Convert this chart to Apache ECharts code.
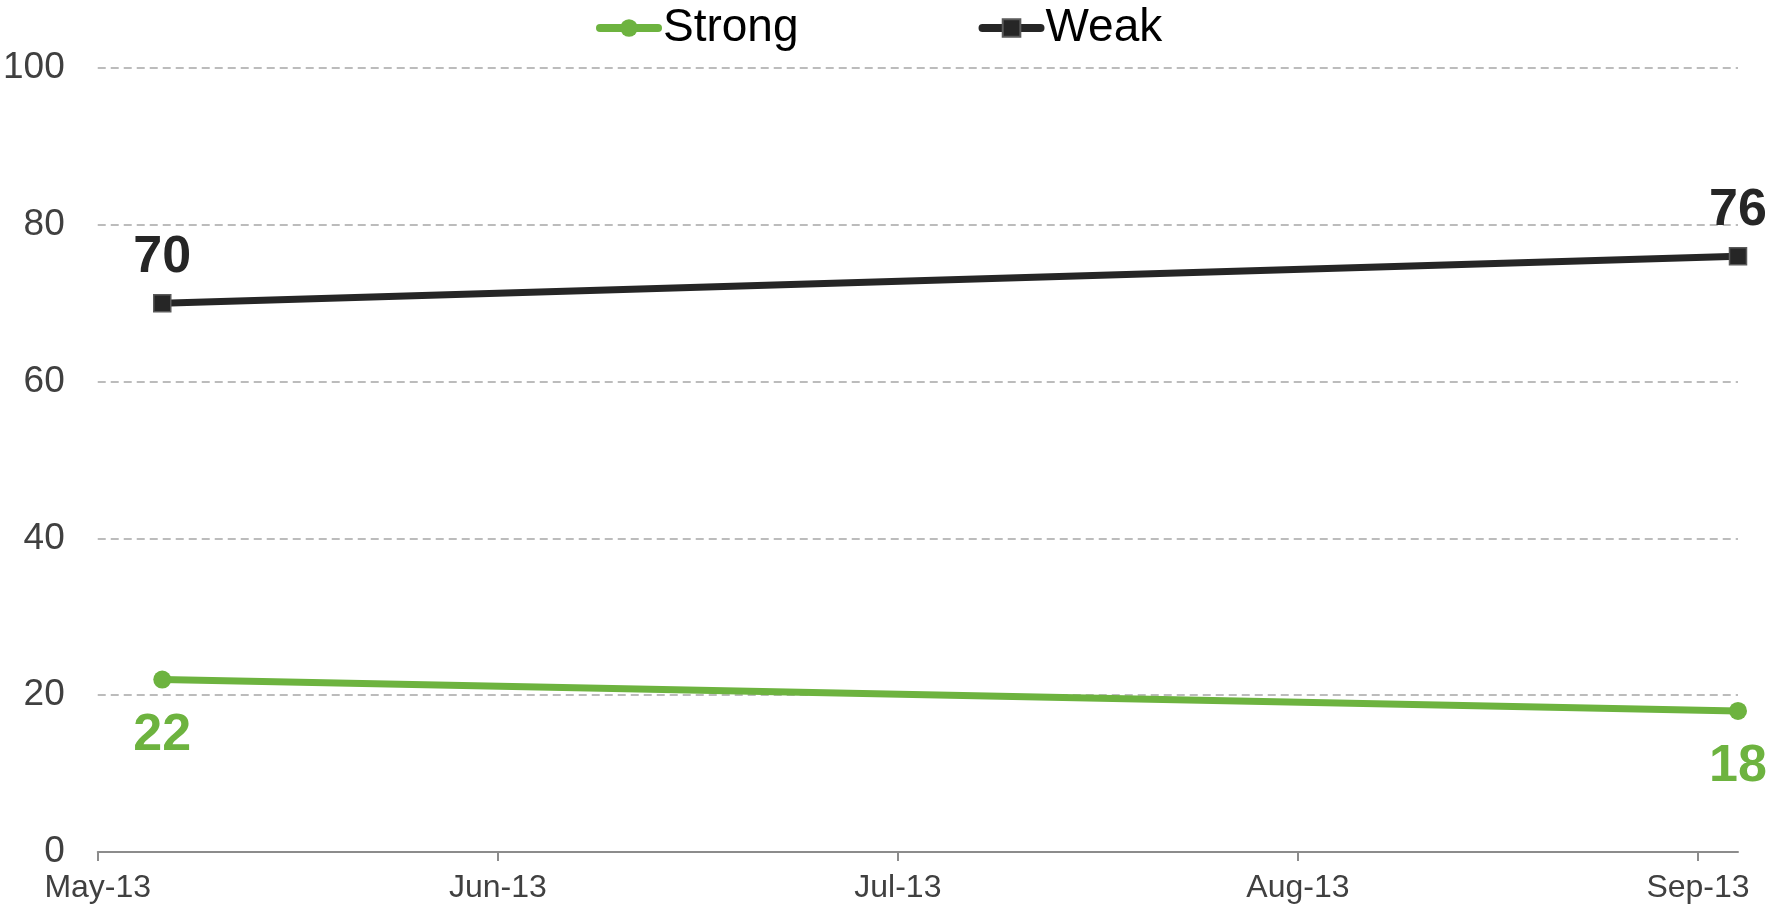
<!DOCTYPE html>
<html>
<head>
<meta charset="utf-8">
<script src="https://cdn.jsdelivr.net/npm/echarts@6/dist/echarts.min.js"></script>
<style>
  html, body { margin: 0; padding: 0; background: #fff; }
  #main { width: 1787px; height: 909px; }
</style>
</head>
<body>
<div id="main"></div>
<script>
// month tick labels (x axis, one per month start)
var months = ["May-13", "Jun-13", "Jul-13", "Aug-13", "Sep-13"];
// survey dates
var dates = ["2013-05-06", "2013-09-04"];
var strong = [22, 18];
var weak = [70, 76];
var yTicks = [0, 20, 40, 60, 80, 100];

// position of a date on a month-index axis (May-13 = 0)
function monthPos(d) {
    var p = d.split("-");
    var y = +p[0], m = +p[1], day = +p[2];
    var daysInMonth = new Date(y, m, 0).getDate();
    return (y - 2013) * 12 + (m - 5) + (day - 1) / daysInMonth;
}

var xs = dates.map(monthPos);
var monthIdx = months.map(function (m, i) { return i; });

var font = "Liberation Sans, Arial, sans-serif";
var green = "#6db33f";
var black = "#262626";

var myChart = echarts.init(document.getElementById("main"), null, {
    width: 1787,
    height: 909,
});

var option = {
    animation: false,
    textStyle: { fontFamily: font },
    legend: {
        left: 591,
        top: 0,
        itemWidth: 58,
        itemHeight: 22,
        itemGap: 180,
        lineStyle: { width: 8, cap: "round" },
        textStyle: { fontSize: 46, color: "#000", fontFamily: font },
        data: ["Strong", "Weak"],
    },
    grid: {
        left: 96,
        right: 49,
        top: 68,
        bottom: 57,
        containLabel: false,
    },
    xAxis: {
        type: "value",
        min: 0,
        max: "dataMax",
        interval: 1,
        splitLine: { show: false },
        axisLine: { show: true, lineStyle: { color: "#8c8c8c", width: 2 } },
        axisTick: {
            show: true,
            length: 9,
            customValues: monthIdx,
            lineStyle: { color: "#8c8c8c", width: 2 },
        },
        axisLabel: {
            customValues: monthIdx,
            fontSize: 32,
            color: "#404040",
            margin: 20,
            fontFamily: font,
            formatter: function (v) {
                return months[Math.round(v)] || "";
            },
        },
    },
    yAxis: {
        type: "value",
        min: yTicks[0],
        max: yTicks[yTicks.length - 1],
        interval: 20,
        axisLine: { show: false },
        axisTick: { show: false },
        axisLabel: {
            fontSize: 37,
            color: "#404040",
            margin: 33,
            fontFamily: font,
        },
        splitLine: {
            show: true,
            lineStyle: { color: "#a6a6a6", width: 1.5, type: [8, 5] },
        },
    },
    series: [
        {
            name: "Strong",
            type: "line",
            symbol: "circle",
            symbolSize: 18,
            lineStyle: { color: green, width: 7 },
            itemStyle: { color: green },
            label: {
                show: true,
                position: "bottom",
                distance: 21,
                fontSize: 52,
                fontWeight: "bold",
                color: green,
                fontFamily: font,
            },
            data: xs.map(function (x, i) { return [x, strong[i]]; }),
        },
        {
            name: "Weak",
            type: "line",
            symbol: "rect",
            symbolSize: 17,
            lineStyle: { color: black, width: 7 },
            itemStyle: { color: black, borderColor: "#5a5a5a", borderWidth: 1.5 },
            label: {
                show: true,
                position: "top",
                distance: 10,
                fontSize: 52,
                fontWeight: "bold",
                color: black,
                fontFamily: font,
            },
            data: xs.map(function (x, i) { return [x, weak[i]]; }),
        },
    ],
};
option && myChart.setOption(option);
</script>
</body>
</html>
